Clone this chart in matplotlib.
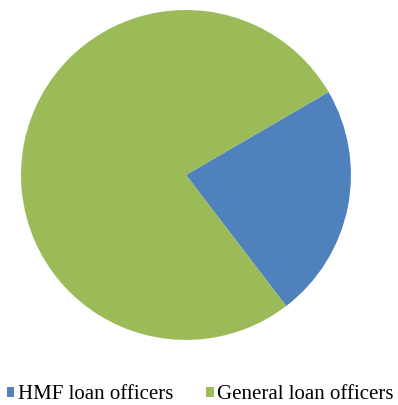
import matplotlib.pyplot as plt
from matplotlib.patches import Patch

plt.rcParams['font.family'] = ['Liberation Serif', 'DejaVu Serif']

# share of loan officers by type
labels = ["HMF loan officers", "General loan officers"]
shares = [23, 77]
colors = ["#4F81BD", "#9BBB59"]

fig = plt.figure(figsize=(3.98, 4.05), dpi=100)
ax = fig.add_axes([0.0528, 0.1605, 0.829, 0.815])
ax.pie(shares, colors=colors, startangle=30.2, counterclock=False,
       radius=1.0, wedgeprops=dict(linewidth=0))
ax.set_xlim(-1, 1)
ax.set_ylim(-1, 1)
ax.set_aspect('equal')
ax.axis('off')

handles = [Patch(facecolor=c, edgecolor='none') for c in colors]
fig.legend(handles, labels, loc='center', bbox_to_anchor=(0.503, 0.025), ncol=2,
           frameon=False, fontsize=15, handlelength=0.35, handleheight=0.35,
           handletextpad=0.15, columnspacing=1.6, borderpad=0, borderaxespad=0)

fig.savefig("out.png", dpi=100)
